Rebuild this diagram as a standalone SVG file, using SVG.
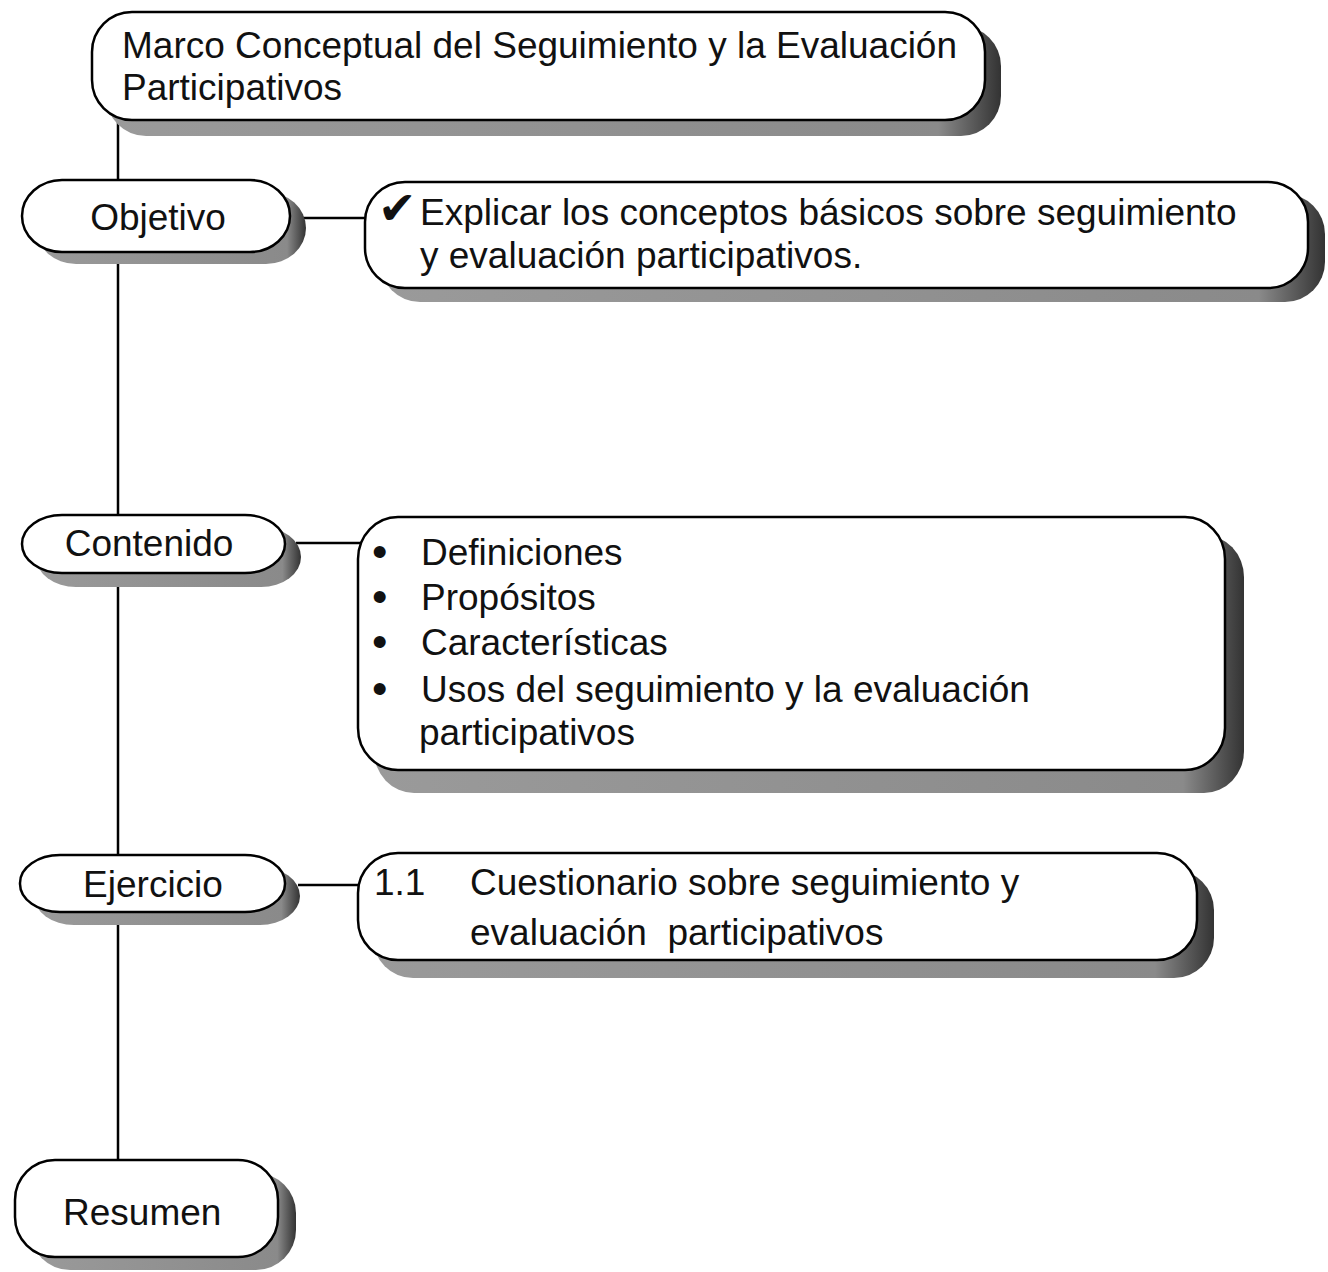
<svg xmlns="http://www.w3.org/2000/svg" width="1328" height="1272" viewBox="0 0 1328 1272">
<defs>
<linearGradient id="shg" x1="0" y1="0" x2="1" y2="0">
<stop offset="0" stop-color="#9a9a9a"/>
<stop offset="0.93" stop-color="#8a8a8a"/>
<stop offset="1" stop-color="#333"/>
</linearGradient>
</defs>
<style>
.box{fill:#fff;stroke:#000;stroke-width:2.5}
.sh{fill:url(#shg);stroke:none}
.ln{stroke:#000;stroke-width:2.5;fill:none}
text{font-family:"Liberation Sans",Arial,sans-serif;font-size:37px;fill:#111}
.ck{font-family:"DejaVu Sans",sans-serif;font-size:46px;font-style:italic}
.bl{font-size:44px}
</style>
<rect width="1328" height="1272" fill="#fff"/>
<g id="connectors">
<line class="ln" x1="118" y1="118" x2="118" y2="1162"/>
<line class="ln" x1="298" y1="218" x2="368" y2="218"/>
<line class="ln" x1="296" y1="543" x2="362" y2="543"/>
<line class="ln" x1="298" y1="885" x2="360" y2="885"/>
</g>
<g id="title">
<rect class="sh" x="106" y="26" width="895" height="110" rx="40" ry="40"/>
<rect class="box" x="92" y="12" width="893" height="108" rx="40" ry="40"/>
<text x="122" y="58">Marco Conceptual del Seguimiento y la Evaluación</text>
<text x="122" y="100">Participativos</text>
</g>
<g id="objetivo">
<rect class="sh" x="36" y="192" width="270" height="72" rx="40" ry="36"/>
<rect class="box" x="22" y="180" width="268" height="72" rx="40" ry="36"/>
<text x="158" y="230" text-anchor="middle">Objetivo</text>
</g>
<g id="objetivo-detalle">
<rect class="sh" x="380" y="194" width="945" height="108" rx="40" ry="40"/>
<rect class="box" x="365" y="182" width="943" height="106" rx="40" ry="40"/>
<text class="ck" x="378" y="224">✔</text>
<text x="420" y="225">Explicar los conceptos básicos sobre seguimiento</text>
<text x="420" y="268">y evaluación participativos.</text>
</g>
<g id="contenido">
<rect class="sh" x="36" y="527" width="265" height="60" rx="40" ry="30"/>
<rect class="box" x="22" y="515" width="263" height="58" rx="40" ry="29"/>
<text x="149" y="556" text-anchor="middle">Contenido</text>
</g>
<g id="contenido-detalle">
<rect class="sh" x="374" y="535" width="870" height="258" rx="40" ry="42"/>
<rect class="box" x="358" y="517" width="867" height="253" rx="40" ry="42"/>
<text class="bl" x="372" y="567">•</text><text x="421" y="565">Definiciones</text>
<text class="bl" x="372" y="612">•</text><text x="421" y="610">Propósitos</text>
<text class="bl" x="372" y="657">•</text><text x="421" y="655">Características</text>
<text class="bl" x="372" y="704">•</text><text x="421" y="702">Usos del seguimiento y la evaluación</text>
<text x="419" y="745">participativos</text>
</g>
<g id="ejercicio">
<rect class="sh" x="34" y="867" width="266" height="58" rx="40" ry="29"/>
<rect class="box" x="20" y="855" width="265" height="57" rx="40" ry="28"/>
<text x="153" y="897" text-anchor="middle">Ejercicio</text>
</g>
<g id="ejercicio-detalle">
<rect class="sh" x="373" y="870" width="841" height="108" rx="40" ry="40"/>
<rect class="box" x="358" y="853" width="839" height="107" rx="40" ry="40"/>
<text x="374" y="895">1.1</text>
<text x="470" y="895">Cuestionario sobre seguimiento y</text>
<text x="470" y="945" xml:space="preserve">evaluación  participativos</text>
</g>
<g id="resumen">
<rect class="sh" x="30" y="1173" width="266" height="97" rx="40" ry="40"/>
<rect class="box" x="15" y="1160" width="263" height="97" rx="40" ry="40"/>
<text x="63" y="1225">Resumen</text>
</g>
</svg>
